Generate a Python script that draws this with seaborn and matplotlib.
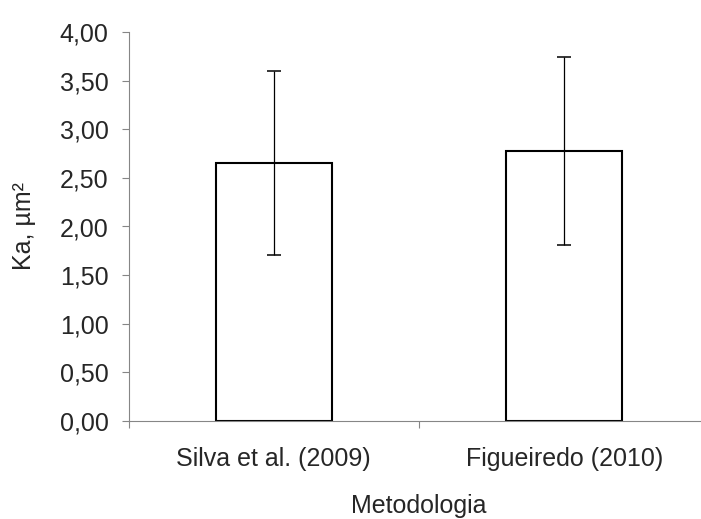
import matplotlib
matplotlib.use("Agg")
import matplotlib.pyplot as plt
import pandas as pd
import seaborn as sns

# data
metodos = ["Silva et al. (2009)", "Figueiredo (2010)"]
ka_media = [2.65, 2.776]
ka_desvio = [0.946, 0.965]
yticks = [0.0, 0.5, 1.0, 1.5, 2.0, 2.5, 3.0, 3.5, 4.0]

df = pd.DataFrame({"Metodologia": metodos, "Ka": ka_media})

sns.set_theme(style="white")
plt.rcParams["font.family"] = ["Liberation Sans", "DejaVu Sans"]

cinza = "#868686"
fs = 18

fig = plt.figure(figsize=(7.01, 5.19), dpi=100)
ax = fig.add_axes([128.5 / 701, 98 / 519, 581 / 701, 389 / 519])

sns.barplot(data=df, x="Metodologia", y="Ka", ax=ax, width=0.4,
            color="white", edgecolor="black", linewidth=1.5, errorbar=None)
ax.errorbar(range(len(metodos)), ka_media, yerr=ka_desvio, fmt="none",
            ecolor="black", elinewidth=0.9, capsize=5, capthick=1.1)

ax.set_xlim(-0.5, 1.5)
ax.set_ylim(0, 4)
ax.set_yticks(yticks)
ax.set_yticklabels([f"{v:.2f}".replace(".", ",") for v in yticks])

# ticks at the category edges, labels at the centres
ax.set_xticks([-0.5, 0.5, 1.5])
ax.set_xticklabels([])
ax.set_xticks([0, 1], minor=True)
ax.set_xticklabels(metodos, minor=True)
ax.tick_params(axis="x", which="minor", length=0, pad=19, labelsize=fs)
ax.tick_params(axis="x", which="major", length=5, width=0.8, color=cinza,
               direction="out", bottom=True)
ax.tick_params(axis="y", length=5, width=0.8, color=cinza, direction="out",
               left=True, labelsize=fs, pad=9.4)

for s in ["top", "right"]:
    ax.spines[s].set_visible(False)
for s in ["left", "bottom"]:
    ax.spines[s].set_color(cinza)
    ax.spines[s].set_linewidth(0.8)

ax.set_ylabel("Ka, µm²", fontsize=fs, labelpad=17)
ax.set_xlabel("Metodologia", fontsize=fs, labelpad=16.5)

fig.savefig("out.png", dpi=100)
